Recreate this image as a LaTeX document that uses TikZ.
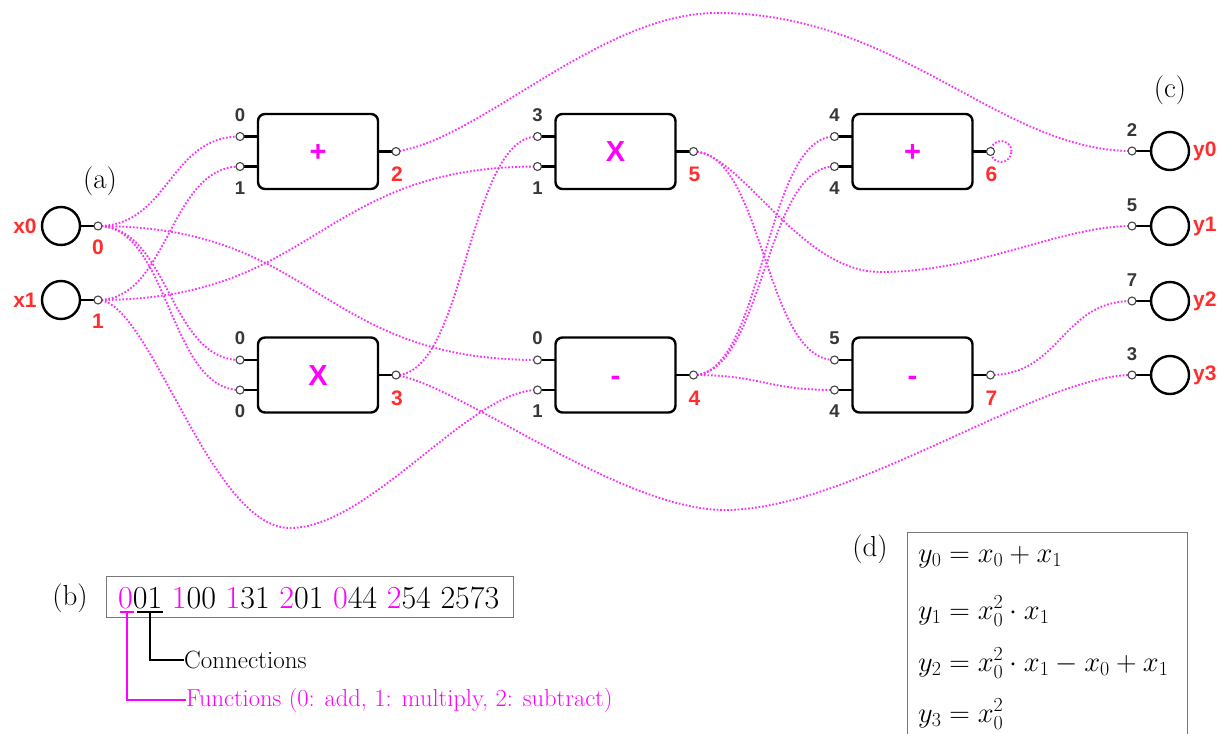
\RequirePackage{fix-cm}
\documentclass[tikz,border=0pt]{standalone}
\usepackage{fontspec}
\newfontfamily\labfont{Liberation Sans}
\pgfdeclarelayer{wires}
\pgfsetlayers{wires,main}

\definecolor{wirec}{RGB}{248,50,248}
\definecolor{fnc}{RGB}{255,0,255}
\definecolor{outc}{RGB}{255,45,45}
\definecolor{inc}{RGB}{55,55,55}
\definecolor{portc}{RGB}{70,70,70}
\definecolor{framec}{RGB}{120,120,120}

\tikzset{
  wire/.style={draw=wirec, line width=1.9pt, dash pattern=on 1.7pt off 1.8pt},
  fblock/.style={draw, line width=2.4pt, rounded corners=7pt, minimum width=120pt,
    minimum height=75pt, inner sep=0pt, text=fnc, text height=20.8pt, text depth=0pt,
    font=\labfont\bfseries\fontsize{29}{29}\selectfont},
  stub/.style={line width=2.2pt},
  port/.style={circle, draw=portc, fill=white, line width=1.1pt, minimum size=8pt, inner sep=0pt},
  iocirc/.style={circle, draw, line width=2.4pt, minimum size=38pt, inner sep=0pt},
  inlab/.style={text=inc, inner sep=0pt, font=\labfont\bfseries\fontsize{18.5}{18.5}\selectfont},
  outlab/.style={text=outc, inner sep=0pt, font=\labfont\bfseries\fontsize{21}{21}\selectfont},
  tag/.style={inner sep=0pt, font=\fontsize{29}{29}\selectfont},
  bracket/.style={line width=2pt},
}

% function block: name, x, y, symbol, input-0 label, input-1 label, output index
\newcommand\cgpfunc[7]{%
  \draw[stub] ({#2-78},{#3-15}) -- ({#2-60},{#3-15});
  \draw[stub] ({#2-78},{#3+15}) -- ({#2-60},{#3+15});
  \draw[stub] ({#2+60},#3) -- ({#2+78},#3);
  \node[fblock] (#1) at (#2,#3) {#4};
  \node[port] (#1-i0) at ({#2-78},{#3-15}) {};
  \node[port] (#1-i1) at ({#2-78},{#3+15}) {};
  \node[port] (#1-o) at ({#2+78},#3) {};
  \node[inlab] (#1-l0) at ({#2-78},{#3-36.5}) {#5};
  \node[inlab] (#1-l1) at ({#2-78},{#3+36.5}) {#6};
  \node[outlab] (#1-lo) at ({#2+79},{#3+23}) {#7};
}
% program input: name, y, label, index
\newcommand\cgpin[4]{%
  \draw[stub] (80,#2) -- (98,#2);
  \node[iocirc] (#1) at (61,#2) {};
  \node[port] (#1-p) at (98,#2) {};
  \node[outlab] (#1-name) at (25,#2) {#3};
  \node[outlab] (#1-idx) at (98,{#2+21}) {#4};
}
% program output: name, y, label, source index
\newcommand\cgpout[4]{%
  \draw[stub] (1132,#2) -- (1151,#2);
  \node[iocirc] (#1) at (1170,#2) {};
  \node[port] (#1-p) at (1132,#2) {};
  \node[outlab, anchor=west] (#1-name) at (1193,#2) {#3};
  \node[inlab] (#1-src) at (1132,{#2-21}) {#4};
}
% S-shaped wire leaving and entering horizontally
\newcommand\swire[3]{\draw[wire] (#1.center) .. controls +(#3,0) and +(-#3,0) .. (#2.center);}

\begin{document}
\begin{tikzpicture}[x=1pt, y=-1pt]
\useasboundingbox (0,0) rectangle (1222,733);

% inputs and outputs
\cgpin{x0}{226}{x0}{0}
\cgpin{x1}{300}{x1}{1}
\cgpout{y0}{151}{y0}{2}
\cgpout{y1}{226}{y1}{5}
\cgpout{y2}{301}{y2}{7}
\cgpout{y3}{375}{y3}{3}

% function blocks
\cgpfunc{n2}{318}{151.5}{+}{0}{1}{2}
\cgpfunc{n3}{318}{375}{X}{0}{0}{3}
\cgpfunc{n5}{615.5}{151.5}{X}{3}{1}{5}
\cgpfunc{n4}{615.5}{375}{-}{0}{1}{4}
\cgpfunc{n6}{912.5}{151.5}{+}{4}{4}{6}
\cgpfunc{n7}{912.5}{375}{-}{5}{4}{7}

% connections
\begin{pgfonlayer}{wires}
\swire{x0-p}{n2-i0}{71}
\swire{x1-p}{n2-i1}{71}
\swire{x0-p}{n3-i0}{71}
\swire{x0-p}{n3-i1}{71}
\swire{x1-p}{n5-i1}{220}
\swire{n3-o}{n5-i0}{70}
\swire{x0-p}{n4-i0}{220}
\swire{n5-o}{n7-i0}{70}
\swire{n4-o}{n6-i0}{70}
\swire{n4-o}{n6-i1}{70}
\swire{n4-o}{n7-i1}{70}
\swire{n7-o}{y2-p}{70}
\draw[wire] (n2-o.center) .. controls (480,140) and (600,13) .. (717,13)
  .. controls (900,13) and (1000,151) .. (y0-p.center);
\draw[wire] (x1-p.center) .. controls (150,300) and (210,528) .. (290,528)
  .. controls (370,528) and (470,390) .. (n4-i1.center);
\draw[wire] (n3-o.center) .. controls (460,385) and (620,510) .. (725,510)
  .. controls (850,510) and (1040,375) .. (y3-p.center);
\draw[wire] (n5-o.center) .. controls (740,152) and (800,272) .. (880,272)
  .. controls (980,272) and (1060,226) .. (y1-p.center);
\draw[wire] (n6-o.center) ++(10.5,0) circle[radius=10.5pt];
\end{pgfonlayer}

% panel tags
\node[tag] (ta) at (100,181) {(a)};
\node[tag] (tb) at (70,598) {(b)};
\node[tag] (tc) at (1170,90) {(c)};
\node[tag] (td) at (870,549) {(d)};

% genome string
\node[draw=framec, line width=1pt, minimum width=407pt, minimum height=41pt, inner sep=0pt]
  (code) at (309.5,596.5) {};
\node[anchor=base west, inner sep=0pt, font=\fontsize{32}{32}\selectfont] (codetxt) at (118,608)
  {\textcolor{fnc}{0}01 \textcolor{fnc}{1}00 \textcolor{fnc}{1}31 \textcolor{fnc}{2}01
   \textcolor{fnc}{0}44 \textcolor{fnc}{2}54 2573};
\node[anchor=base west, inner sep=0pt, font=\fontsize{25}{25}\selectfont] (conn) at (184,668) {Connections};
\node[anchor=base west, inner sep=0pt, text=fnc, font=\fontsize{24.5}{24.5}\selectfont] (func) at (186,706)
  {Functions (0: add, 1: multiply, 2: subtract)};
\draw[bracket] (137,612) -- (163,612) (150,612) -- (150,660) -- (conn.west |- 0,660);
\draw[bracket, draw=fnc] (120,612) -- (134,612) (127,612) -- (127,700) -- (func.west |- 0,700);

% resulting expressions
\draw[draw=framec, line width=1pt] (907,740) -- (907,532) -- (1187,532) -- (1187,740);
\begin{scope}[every node/.style={anchor=base west, inner sep=0pt, font=\fontsize{28.5}{28.5}\selectfont}]
\node (eq0) at (918,562) {$y_0 = x_0 + x_1$};
\node (eq1) at (918,619) {$y_1 = x_0^2 \cdot x_1$};
\node (eq2) at (918,671) {$y_2 = x_0^2 \cdot x_1 - x_0 + x_1$};
\node (eq3) at (918,722) {$y_3 = x_0^2$};
\end{scope}
\end{tikzpicture}
\end{document}
